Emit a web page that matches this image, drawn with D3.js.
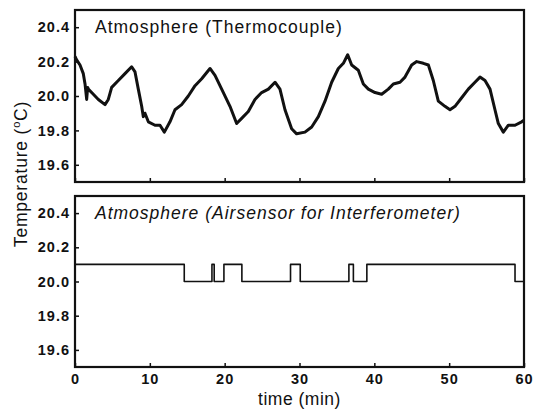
<!DOCTYPE html>
<html>
<head>
<meta charset="utf-8">
<script src="https://cdn.jsdelivr.net/npm/d3@7"></script>
<style>
  html, body { margin: 0; padding: 0; background: #fff; }
  svg { display: block; }
  text { font-family: "Liberation Sans", Arial, sans-serif; fill: #111; }
</style>
</head>
<body>
<svg id="chart" width="537" height="413"></svg>
<script>
// ---- data ----
const thermoTime = [0, 0.22, 0.67, 1.11, 1.34, 1.56, 1.69, 1.78, 2.45, 3.12, 4.01, 4.45, 4.90, 5.79, 6.68, 7.57, 8.02, 8.46, 8.91, 9.13, 9.35, 9.80, 10.69, 11.36, 11.94, 12.69, 13.36, 14.25, 15.14, 16.04, 16.93, 18.04, 18.71, 19.60, 20.71, 21.60, 22.27, 23.16, 24.05, 24.94, 25.84, 26.73, 27.39, 28.06, 28.95, 29.62, 30.73, 31.63, 32.52, 33.41, 34.30, 35.19, 35.86, 36.44, 36.97, 37.86, 38.53, 39.20, 40.09, 40.98, 41.87, 42.54, 43.43, 44.10, 44.99, 45.66, 46.55, 47.22, 47.88, 48.55, 49.44, 50.11, 50.78, 51.67, 52.56, 53.45, 54.12, 54.79, 55.46, 56.12, 56.57, 57.24, 57.91, 58.80, 59.69, 60];
const thermoTemp = [20.23, 20.21, 20.18, 20.13, 20.07, 19.98, 20.05, 20.04, 20.01, 19.98, 19.95, 19.98, 20.05, 20.09, 20.13, 20.17, 20.14, 20.04, 19.94, 19.88, 19.90, 19.85, 19.83, 19.83, 19.79, 19.85, 19.92, 19.95, 20.00, 20.06, 20.10, 20.16, 20.12, 20.04, 19.94, 19.84, 19.87, 19.91, 19.98, 20.02, 20.04, 20.08, 20.04, 19.92, 19.81, 19.78, 19.79, 19.82, 19.88, 19.97, 20.08, 20.16, 20.19, 20.24, 20.18, 20.15, 20.07, 20.04, 20.02, 20.01, 20.04, 20.07, 20.08, 20.11, 20.18, 20.20, 20.19, 20.18, 20.09, 19.97, 19.94, 19.92, 19.94, 19.99, 20.04, 20.08, 20.11, 20.09, 20.04, 19.92, 19.84, 19.79, 19.83, 19.83, 19.85, 19.86];

const airTime = [0, 14.6, 18.3, 18.6, 19.9, 22.3, 28.8, 30.1, 36.6, 37.2, 39.0, 58.8, 60];
const airTemp = [20.1, 20.0, 20.1, 20.0, 20.1, 20.0, 20.1, 20.0, 20.1, 20.0, 20.1, 20.0, 20.0];

const yTicks = [19.6, 19.8, 20.0, 20.2, 20.4];
const xTicks = [0, 10, 20, 30, 40, 50, 60];
const topTitle = "Atmosphere (Thermocouple)";
const bottomTitle = "Atmosphere (Airsensor for Interferometer)";
const xLabel = "time (min)";

// ---- drawing ----
const svg = d3.select("#chart");
const x = d3.scaleLinear().domain([0, 60]).range([75, 524]);

const panels = [
  { top: 10, bottom: 182, time: thermoTime, temp: thermoTemp, title: topTitle, italic: false, sw: 3, curve: d3.curveLinear, xLabels: false },
  { top: 196, bottom: 367, time: airTime, temp: airTemp, title: bottomTitle, italic: true, sw: 1.6, curve: d3.curveStepAfter, xLabels: true }
];

panels.forEach(p => {
  const y = d3.scaleLinear().domain([19.5, 20.5]).range([p.bottom, p.top]);
  const g = svg.append("g");

  const line = d3.line().x(d => x(d[0])).y(d => y(d[1])).curve(p.curve);
  g.append("path")
    .datum(p.time.map((t, i) => [t, p.temp[i]]))
    .attr("d", line)
    .attr("fill", "none")
    .attr("stroke", "#111")
    .attr("stroke-width", p.sw)
    .attr("stroke-linejoin", "round");

  const yAxis = d3.axisLeft(y).tickValues(yTicks).tickFormat(d3.format(".1f")).tickSize(-4).tickPadding(5);
  const ga = g.append("g").attr("transform", `translate(${x(0)},0)`).call(yAxis);
  ga.select(".domain").remove();
  ga.selectAll(".tick line").attr("stroke", "#111").attr("stroke-width", 1.5);
  ga.selectAll(".tick text").attr("font-size", 14.5).attr("font-weight", "bold")
    .attr("letter-spacing", 1).attr("fill", "#111")
    .attr("font-family", '"Liberation Sans", Arial, sans-serif');

  const xAxis = d3.axisBottom(x).tickValues(xTicks).tickSize(-4).tickPadding(7)
    .tickFormat(p.xLabels ? d3.format("d") : () => "");
  const gx = g.append("g").attr("transform", `translate(0,${p.bottom})`).call(xAxis);
  gx.select(".domain").remove();
  gx.selectAll(".tick line").attr("stroke", "#111").attr("stroke-width", 1.5);
  gx.selectAll(".tick text").attr("font-size", 14.5).attr("font-weight", "bold")
    .attr("letter-spacing", 1).attr("fill", "#111")
    .attr("font-family", '"Liberation Sans", Arial, sans-serif');

  g.append("rect")
    .attr("x", x(0)).attr("y", p.top)
    .attr("width", x(60) - x(0)).attr("height", p.bottom - p.top)
    .attr("fill", "none").attr("stroke", "#111").attr("stroke-width", 2.2);

  g.append("text")
    .attr("x", 95).attr("y", p.top + 23)
    .attr("font-size", 17.5)
    .attr("letter-spacing", 1)
    .attr("font-style", p.italic ? "italic" : "normal")
    .text(p.title);
});

svg.append("text")
  .attr("x", x(30)).attr("y", 405)
  .attr("text-anchor", "middle")
  .attr("font-size", 17.5)
  .attr("letter-spacing", 0.5)
  .text(xLabel);

const yl = svg.append("text")
  .attr("transform", "translate(27,174) rotate(-90)")
  .attr("text-anchor", "middle")
  .attr("font-size", 17.5)
  .attr("letter-spacing", 0.8);
yl.append("tspan").text("Temperature (");
yl.append("tspan").attr("font-size", 11).attr("dy", -7).text("o");
yl.append("tspan").attr("dy", 7).text("C)");
</script>
</body>
</html>
